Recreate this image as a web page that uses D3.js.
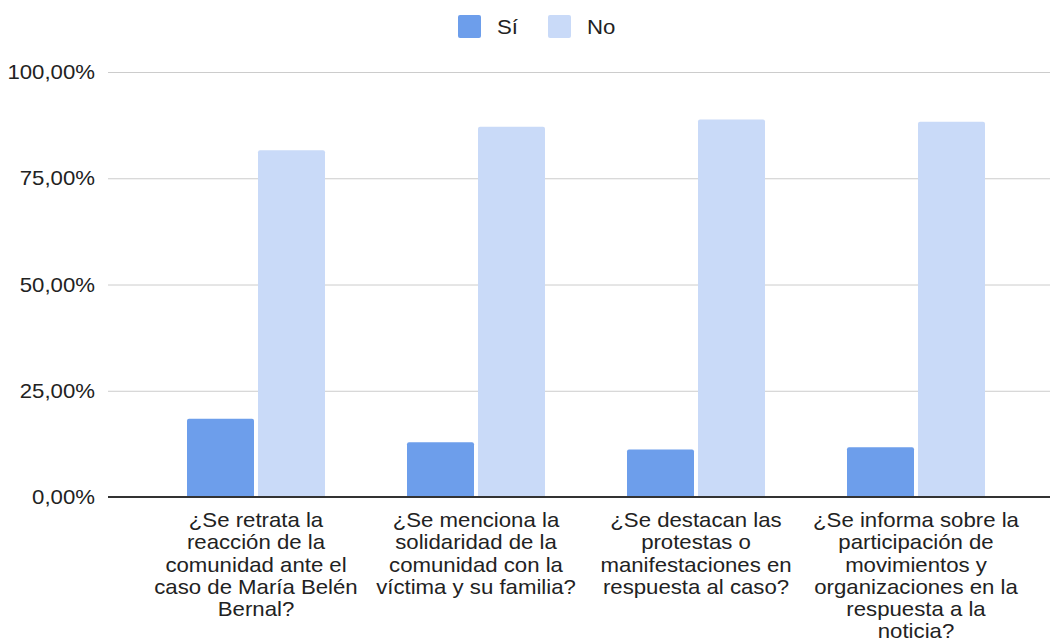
<!DOCTYPE html>
<html>
<head>
<meta charset="utf-8">
<script src="https://cdn.jsdelivr.net/npm/d3@7"></script>
<style>
  body { margin: 0; background: #fff; }
  text { font-family: "Liberation Sans", Arial, sans-serif; fill: #222; }
</style>
</head>
<body>
<svg id="chart"></svg>
<script>
var width = 1055;
var height = 641;

// data
var categories = [
  ["¿Se retrata la", "reacción de la", "comunidad ante el", "caso de María Belén", "Bernal?"],
  ["¿Se menciona la", "solidaridad de la", "comunidad con la", "víctima y su familia?"],
  ["¿Se destacan las", "protestas o", "manifestaciones en", "respuesta al caso?"],
  ["¿Se informa sobre la", "participación de", "movimientos y", "organizaciones en la", "respuesta a la", "noticia?"]
];
var seriesNames = ["Sí", "No"];
var siValues = [0.184, 0.129, 0.112, 0.117];
var noValues = [0.816, 0.871, 0.888, 0.883];
var yTicks = [0, 0.25, 0.5, 0.75, 1];
var colors = ["#6d9eeb", "#c9daf8"];

var svg = d3.select("#chart")
  .attr("width", width)
  .attr("height", height);

var plotLeft = 108, plotRight = 1050;
var sx = 1.11; // the text in the picture is a bit wide
var yScale = d3.scaleLinear().domain([0, 1]).range([497, 72]);

var xScale = d3.scaleBand()
  .domain(d3.range(categories.length))
  .range([146, 1026]);

var barW = 67, gap = 4;

var fmt = function(v) { return d3.format(".2f")(v * 100).replace(".", ",") + "%"; };

// gridlines
svg.append("g").selectAll("line")
  .data(yTicks.filter(function(t) { return t > 0; }))
  .enter().append("line")
  .attr("x1", plotLeft).attr("x2", plotRight)
  .attr("y1", function(d) { return yScale(d) + 0.5; })
  .attr("y2", function(d) { return yScale(d) + 0.5; })
  .attr("stroke", "#cccccc");

// y labels
svg.append("g").selectAll("text")
  .data(yTicks)
  .enter().append("text")
  .attr("transform", function(d) { return "translate(95," + yScale(d) + ") scale(" + sx + ",1)"; })
  .attr("dy", "0.35em")
  .attr("text-anchor", "end")
  .attr("font-size", "20px")
  .text(fmt);

function barPath(x, y0, y1, w, r) {
  var h = y0 - y1;
  if (h < r) r = h;
  return "M" + x + "," + y0 + "V" + (y1 + r) + "Q" + x + "," + y1 + " " + (x + r) + "," + y1 +
    "H" + (x + w - r) + "Q" + (x + w) + "," + y1 + " " + (x + w) + "," + (y1 + r) + "V" + y0 + "Z";
}

// bars
[siValues, noValues].forEach(function(vals, s) {
  svg.append("g").selectAll("path")
    .data(vals)
    .enter().append("path")
    .attr("d", function(d, i) {
      var cx = xScale(i) + xScale.bandwidth() / 2;
      var x = s === 0 ? cx - gap / 2 - barW : cx + gap / 2;
      return barPath(x, yScale(0), yScale(d), barW, 2);
    })
    .attr("fill", colors[s]);
});

// baseline
svg.append("line")
  .attr("x1", plotLeft).attr("x2", plotRight)
  .attr("y1", yScale(0)).attr("y2", yScale(0))
  .attr("stroke", "#333333")
  .attr("stroke-width", 2);

// category labels
svg.append("g").selectAll("text")
  .data(categories)
  .enter().append("text")
  .attr("text-anchor", "middle")
  .attr("font-size", "20px")
  .attr("transform", function(d, i) {
    return "translate(" + (xScale(i) + xScale.bandwidth() / 2) + ",527) scale(" + sx + ",1)";
  })
  .selectAll("tspan")
  .data(function(d) { return d; })
  .enter().append("tspan")
  .attr("x", 0)
  .attr("y", function(d, i) { return i * 22.3; })
  .text(function(d) { return d; });

// legend
var legendX = [458, 548];
var legend = svg.append("g").selectAll("g")
  .data(seriesNames)
  .enter().append("g")
  .attr("transform", function(d, i) { return "translate(" + legendX[i] + ",15)"; });

legend.append("rect")
  .attr("width", 23).attr("height", 23)
  .attr("rx", 2)
  .attr("fill", function(d, i) { return colors[i]; });

legend.append("text")
  .attr("transform", "translate(39,11.5) scale(" + sx + ",1)")
  .attr("dy", "0.35em")
  .attr("font-size", "20px")
  .text(function(d) { return d; });
</script>
</body>
</html>
